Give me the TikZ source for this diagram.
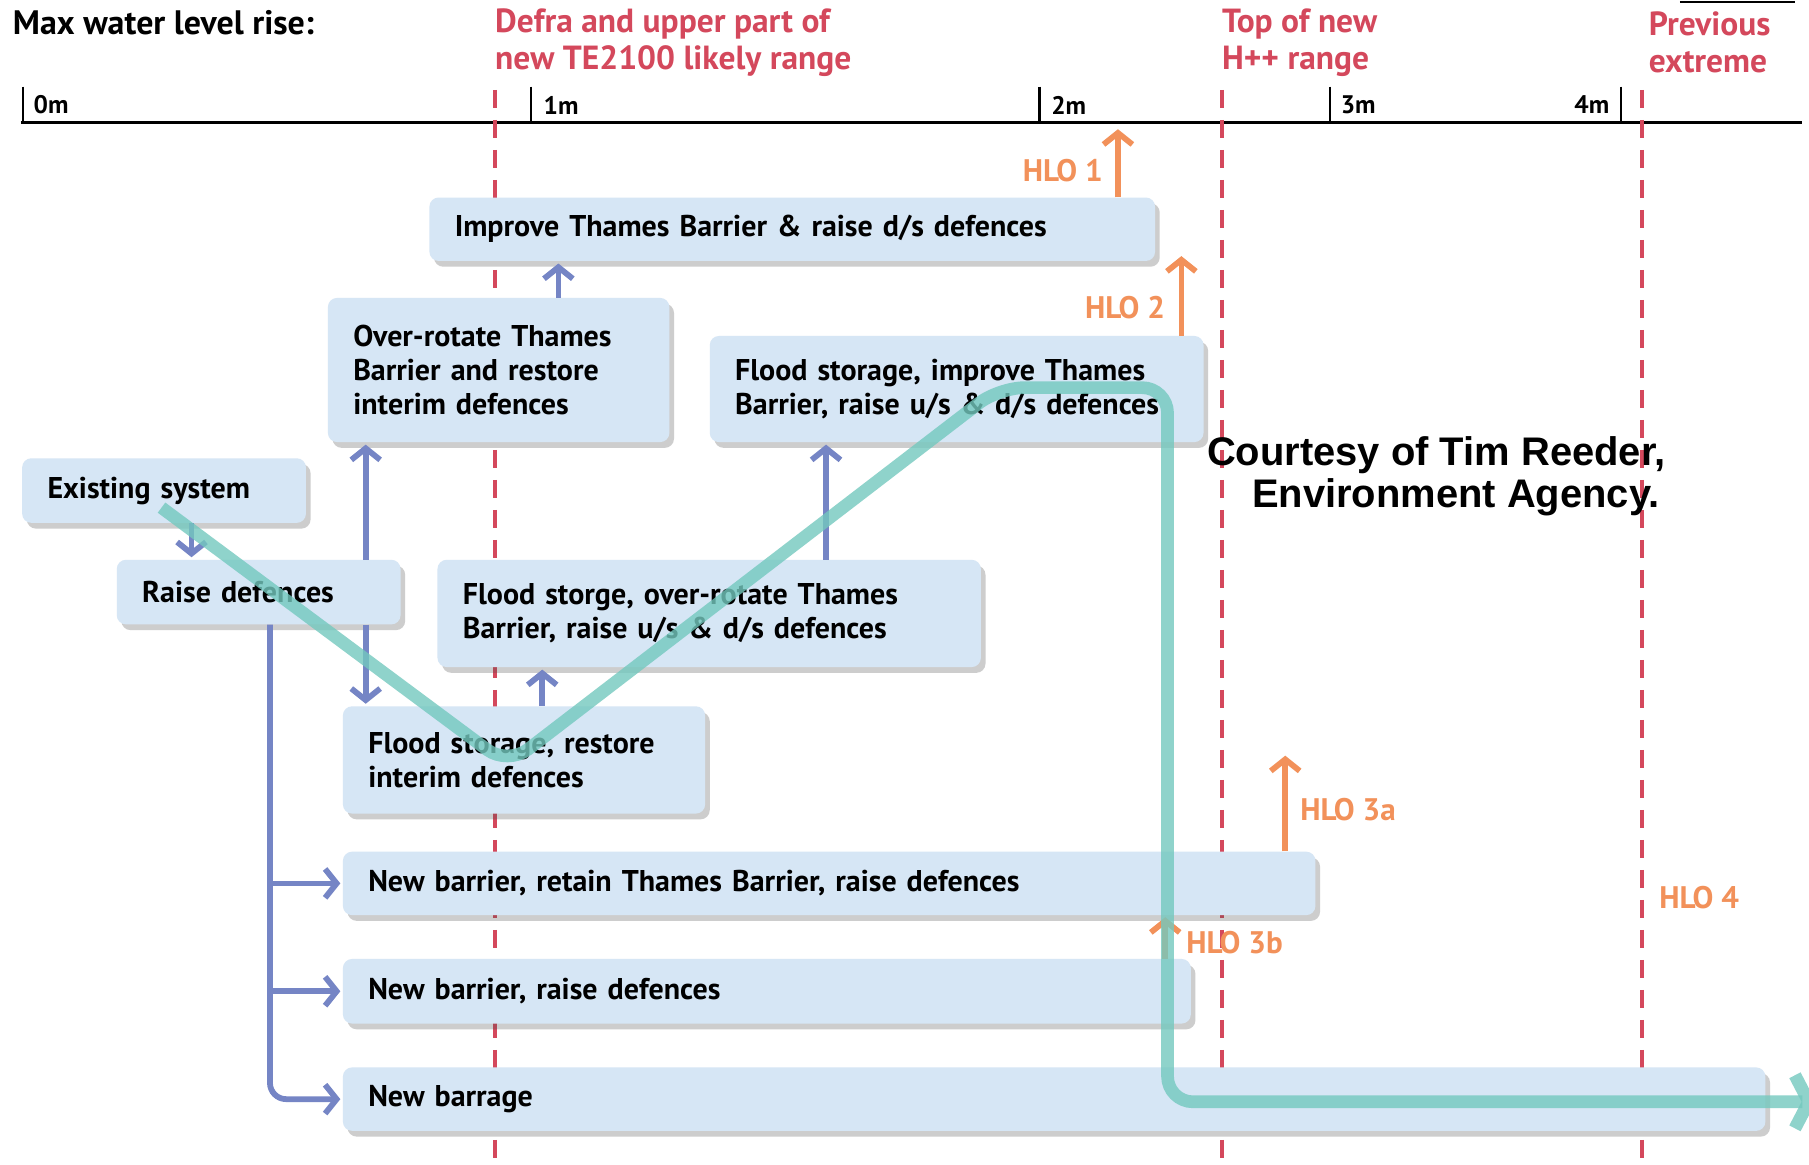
\documentclass[tikz,border=0pt]{standalone}
\usepackage{fontspec}
\setmainfont{PT Sans}
\newfontfamily\creditfont{Liberation Sans}
\usetikzlibrary{arrows.meta,shadows}

\definecolor{boxblue}{RGB}{214,230,245}
\definecolor{linkblue}{RGB}{117,133,197}
\definecolor{hlo}{RGB}{242,145,90}
\definecolor{marker}{RGB}{212,72,92}
\definecolor{routeteal}{RGB}{115,200,190}

\begin{document}
\begin{tikzpicture}[x=1pt,y=-1pt,
  optbox/.style={fill=boxblue, rounded corners=8pt, anchor=north west,
    inner xsep=22pt, inner ysep=0pt, align=left,
    font=\bfseries\fontsize{26}{29.5}\selectfont,
    drop shadow={shadow xshift=4pt, shadow yshift=-5pt, opacity=0.28, fill=black!70}},
  blink/.style={draw=linkblue, line width=5pt,
    -{Straight Barb[length=10pt,width=25pt]}, shorten >=2pt},
  hloarrow/.style={draw=hlo, line width=5pt,
    -{Straight Barb[length=10pt,width=25pt]}},
  hlolabel/.style={text=hlo, font=\bfseries\fontsize{27}{30}\selectfont, inner sep=0pt},
  limitline/.style={draw=marker, line width=3.5pt, dash pattern=on 16pt off 10pt},
  limitlabel/.style={text=marker, font=\bfseries\fontsize{29}{32}\selectfont,
    align=left, anchor=west, inner sep=0pt},
  scalelabel/.style={font=\bfseries\fontsize{22}{24}\selectfont, inner sep=0pt},
  route/.style={draw=routeteal, line width=11pt, draw opacity=0.8,
    rounded corners=22pt, -{Straight Barb[length=12pt,width=46pt]}}
]
\useasboundingbox (0,0) rectangle (1568,1009);
\clip (0,0) rectangle (1568,1009);
\fill[white] (0,0) rectangle (1568,1009);

% scale of water level rise
\node[anchor=west, inner sep=0pt, font=\bfseries\fontsize{29.4}{32}\selectfont] (title) at (11,20) {Max water level rise:};
\draw[line width=2.5pt] (18,106) -- (1562,106);
\foreach \tx in {20,460,901,1153,1405}
  \draw[line width=2pt] (\tx,75) -- (\tx,106);
\node[scalelabel, anchor=west] (m0) at (29,91) {0m};
\node[scalelabel, anchor=west] (m1) at (471,91) {1m};
\node[scalelabel, anchor=west] (m2) at (911,91) {2m};
\node[scalelabel, anchor=west] (m3) at (1162,91) {3m};
\node[scalelabel, anchor=east] (m4) at (1395,91) {4m};
\draw[line width=2pt] (1456,1.5) -- (1556,1.5);

% threshold lines and their captions
\draw[limitline] (429,78) -- (429,1012);
\draw[limitline] (1059,78) -- (1059,1012);
\draw[limitline] (1423,78) -- (1423,1012);
\node[limitlabel] (defra) at (429,37) {Defra and upper part of\\new TE2100 likely range};
\node[limitlabel] (hpp) at (1059,37) {Top of new\\H++ range};
\node[limitlabel] (prev) at (1429,37) {Previous\\extreme};

% options
\node[optbox, text width=585pt, minimum height=55pt] (imp) at (372,171)
  {Improve Thames Barrier \& raise d/s defences};
\node[optbox, text width=252pt, minimum height=125pt] (over) at (284,258)
  {Over-rotate Thames\\Barrier and restore\\interim defences};
\node[optbox, text width=384pt, minimum height=92pt] (fsimp) at (615,291)
  {Flood storage, improve Thames\\Barrier, raise u/s \& d/s defences};
\node[optbox, text width=202pt, minimum height=56pt] (exist) at (19,397)
  {Existing system};
\node[optbox, text width=202pt, minimum height=56pt] (raise) at (101,485)
  {Raise defences};
\node[optbox, text width=427pt, minimum height=93pt] (fsover) at (379,485)
  {Flood storge, over-rotate Thames\\Barrier, raise u/s \& d/s defences};
\node[optbox, text width=270pt, minimum height=93pt] (fsrest) at (297,612)
  {Flood storage, restore\\interim defences};
\node[optbox, text width=799pt, minimum height=55pt] (nb1) at (297,738)
  {New barrier, retain Thames Barrier, raise defences};
\node[optbox, text width=691pt, minimum height=56pt] (nb2) at (297,831)
  {New barrier, raise defences};
\node[optbox, text width=1189pt, minimum height=55pt] (barrage) at (297,925)
  {New barrage};

% transitions between options
\draw[blink] (exist.south -| 166,0) -- (raise.north -| 166,0);
\draw[blink] (raise.north -| 317,0) -- (over.south -| 317,0);
\draw[blink] (raise.south -| 317,0) -- (fsrest.north -| 317,0);
\draw[blink] (fsrest.north -| 470,0) -- (fsover.south -| 470,0);
\draw[blink] (over.north -| 484,0) -- (imp.south -| 484,0);
\draw[blink] (fsover.north -| 716,0) -- (fsimp.south -| 716,0);
\draw[blink, rounded corners=14pt] (raise.south -| 234,0) |- (barrage.west);
\draw[blink] (nb1.west -| 234,0) -- (nb1.west);
\draw[blink] (nb2.west -| 234,0) -- (nb2.west);

% high level options
\coordinate (h1) at (969,112);
\coordinate (h2) at (1024,222);
\coordinate (h3a) at (1114,655);
\coordinate (h3b) at (1010,795);
\draw[hloarrow] (imp.north -| h1) -- (h1);
\draw[hloarrow] (fsimp.north -| h2) -- (h2);
\draw[hloarrow] (nb1.north -| h3a) -- (h3a);
\draw[hloarrow] (nb2.north -| h3b) -- (h3b);
\node[hlolabel, anchor=east] (l1) at (956,148) {HLO 1};
\node[hlolabel, anchor=east] (l2) at (1010,267) {HLO 2};
\node[hlolabel, anchor=west] (l3a) at (1127,702) {HLO 3a};
\node[hlolabel, anchor=west] (l3b) at (1028,817) {HLO 3b};
\node[hlolabel, anchor=west] (l4) at (1438,778) {HLO 4};

% credit
\node[anchor=west, align=left, inner sep=0pt,
      font=\creditfont\bfseries\fontsize{34.6}{36}\selectfont] (credit) at (1046,413)
  {Courtesy of Tim Reeder,\\\hspace*{39pt}Environment Agency.};

% adaptation route
\coordinate (rs) at (140,440);
\coordinate (re) at (1574,955);
\draw[route] (rs) -- (440,663) -- (866,336) -- (1012,336) -- (1012,955) -- (re);
\end{tikzpicture}
\end{document}
